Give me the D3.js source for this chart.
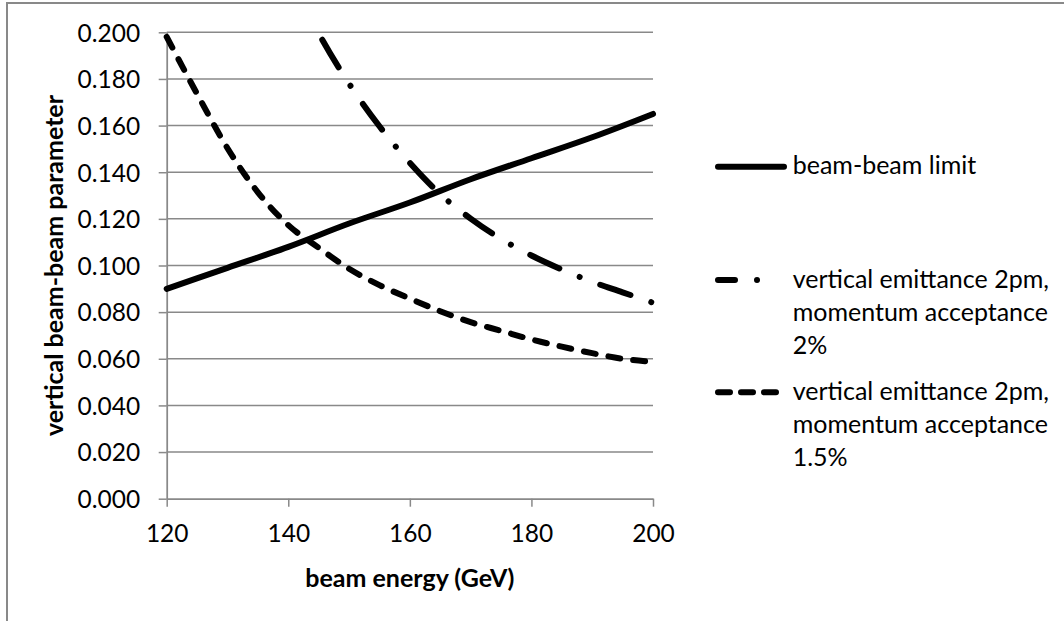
<!DOCTYPE html>
<html>
<head>
<meta charset="utf-8">
<script src="https://cdn.jsdelivr.net/npm/d3@7"></script>
<style>
  html, body { margin: 0; padding: 0; background: #fff; }
  text { font-family: Lato, "Noto Sans", sans-serif; fill: #000; }
</style>
</head>
<body>
<svg id="chart" width="1064" height="621"></svg>
<script>
// ---------------- data ----------------
const energyLimit   = [120, 130, 140, 150, 160, 170, 180, 190, 200];
const beamBeamLimit = [0.090, 0.099, 0.108, 0.118, 0.127, 0.137, 0.146, 0.155, 0.165];

const energyAcc2 = [140, 145, 150, 155, 160, 165, 170, 175, 180, 185, 190, 195, 200];
const acc2       = [0.226, 0.1996, 0.178, 0.1597, 0.144, 0.1306, 0.1201, 0.1114, 0.1043, 0.0983, 0.0930, 0.0885, 0.0840];

const energyAcc15 = [120, 125, 130, 135, 140, 145, 150, 155, 160, 165, 170, 175, 180, 185, 190, 195, 200];
const acc15       = [0.198, 0.1736, 0.1503, 0.1314, 0.1173, 0.1076, 0.0986, 0.0916, 0.0858, 0.0804, 0.0757, 0.0720, 0.0683, 0.0652, 0.0624, 0.0600, 0.0587];

const xTicks = [120, 140, 160, 180, 200];
const yTicks = [0, 0.02, 0.04, 0.06, 0.08, 0.10, 0.12, 0.14, 0.16, 0.18, 0.20];

const xTitle = "beam energy (GeV)";
const yTitle = "vertical beam-beam parameter";
const legendLabels = [
  ["beam-beam limit"],
  ["vertical emittance 2pm,", "momentum acceptance", "2%"],
  ["vertical emittance 2pm,", "momentum acceptance", "1.5%"]
];

// ---------------- layout ----------------
const W = 1064, H = 621;
const plot = { left: 166.7, right: 653, top: 32.3, bottom: 498.7 };
const GRID = "#898989";
const FS_TICK = 24.5;
const FS_LEG = 25;
const FS_BOLD = 25;

const svg = d3.select("#chart");

// outer chart frame (continues past the right / bottom edge in the reference)
svg.append("rect")
  .attr("x", 7).attr("y", 3)
  .attr("width", 1200).attr("height", 800)
  .attr("fill", "#fff")
  .attr("stroke", GRID).attr("stroke-width", 2);

const x = d3.scaleLinear().domain([120, 200]).range([plot.left, plot.right]);
const y = d3.scaleLinear().domain([0, 0.2]).range([plot.bottom, plot.top]);

// gridlines
svg.append("g").selectAll("line")
  .data(yTicks.filter(d => d > 0))
  .join("line")
  .attr("x1", plot.left).attr("x2", plot.right)
  .attr("y1", d => y(d)).attr("y2", d => y(d))
  .attr("stroke", GRID).attr("stroke-width", 1.5);

// y axis
const gy = svg.append("g")
  .attr("transform", `translate(${plot.left},0)`)
  .call(d3.axisLeft(y).tickValues(yTicks).tickFormat(d3.format(".3f"))
        .tickSize(8).tickPadding(18.5).tickSizeOuter(0));
gy.attr("font-family", null).attr("font-size", null);
gy.select(".domain").attr("stroke", GRID).attr("stroke-width", 1.75);
gy.selectAll(".tick line").attr("stroke", GRID).attr("stroke-width", 1.5);
gy.selectAll(".tick text").attr("font-size", FS_TICK).attr("fill", "#000").attr("dy", "0.36em");

// x axis
const gx = svg.append("g")
  .attr("transform", `translate(0,${plot.bottom})`)
  .call(d3.axisBottom(x).tickValues(xTicks).tickFormat(d3.format("d"))
        .tickSize(8).tickSizeOuter(0));
gx.attr("font-family", null).attr("font-size", null);
gx.select(".domain").attr("stroke", GRID).attr("stroke-width", 1.75);
gx.selectAll(".tick line").attr("stroke", GRID).attr("stroke-width", 1.5);
gx.selectAll(".tick text").attr("font-size", FS_TICK).attr("fill", "#000")
  .attr("y", 43.5).attr("dy", 0);

// axis titles
svg.append("text")
  .attr("x", (plot.left + plot.right) / 2).attr("y", 586.5)
  .attr("text-anchor", "middle")
  .attr("font-size", FS_BOLD).attr("font-weight", "bold")
  .text(xTitle);

svg.append("text")
  .attr("transform", `translate(63,${(plot.top + plot.bottom) / 2}) rotate(-90)`)
  .attr("text-anchor", "middle")
  .attr("font-size", FS_BOLD).attr("font-weight", "bold")
  .text(yTitle);

// series
svg.append("clipPath").attr("id", "plotclip")
  .append("rect").attr("x", 0).attr("y", plot.top).attr("width", W).attr("height", H);

const line = d3.line().x(d => x(d[0])).y(d => y(d[1])).curve(d3.curveMonotoneX);
const series = [
  { pts: d3.zip(energyLimit, beamBeamLimit), dash: null },
  { pts: d3.zip(energyAcc2, acc2), dash: "32,22,0.01,22" },
  { pts: d3.zip(energyAcc15, acc15), dash: "12,13" }
];
const gs = svg.append("g").attr("clip-path", "url(#plotclip)");
gs.selectAll("path").data(series).join("path")
  .attr("d", d => line(d.pts))
  .attr("fill", "none")
  .attr("stroke", "#000")
  .attr("stroke-width", 6)
  .attr("stroke-linecap", "round")
  .attr("stroke-linejoin", "round")
  .attr("stroke-dasharray", d => d.dash);

// legend
const legendRowsY = [166.7, 280, 392.3];
const legendDash = [null, "17,22,0.01,27,0.01,60", "12,11"];
const lg = svg.append("g");
legendLabels.forEach((lines, i) => {
  const cy = legendRowsY[i];
  lg.append("path")
    .attr("d", d3.line()([[718, cy], [784, cy]]))
    .attr("fill", "none").attr("stroke", "#000").attr("stroke-width", 6)
    .attr("stroke-linecap", "round")
    .attr("stroke-dasharray", legendDash[i]);
  lg.append("text")
    .attr("x", 792.7).attr("y", cy + 7.6)
    .attr("font-size", FS_LEG)
    .selectAll("tspan").data(lines).join("tspan")
    .attr("x", 792.7)
    .attr("dy", (d, j) => j === 0 ? 0 : 33)
    .text(d => d);
});
</script>
</body>
</html>
